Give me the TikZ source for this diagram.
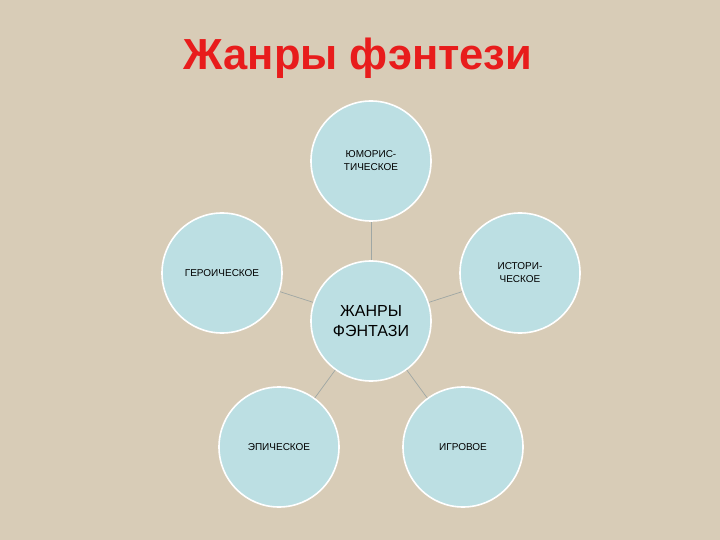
\documentclass[tikz,border=0pt]{standalone}
\usepackage{fontspec}
\setmainfont{Liberation Sans}
\definecolor{bgbeige}{HTML}{D8CCB7}
\definecolor{circblue}{HTML}{BCDFE3}
\definecolor{linkgray}{HTML}{9FA7A4}
\definecolor{titlered}{HTML}{E81C1C}
\tikzset{
  genre/.style={circle, minimum size=120bp, inner sep=0pt, draw=white, line width=1.6bp, fill=circblue, align=center, font=\fontsize{10bp}{13bp}\selectfont, text=black},
  hub/.style={genre, font=\fontsize{16bp}{20bp}\selectfont},
  link/.style={draw=linkgray, line width=0.7bp}
}
\begin{document}
\begin{tikzpicture}[x=1bp,y=-1bp]
\fill[bgbeige] (0,0) rectangle (720,540);
\useasboundingbox (0,0) rectangle (720,540);
\node[font=\bfseries\fontsize{43.5bp}{48bp}\selectfont, text=titlered, anchor=base] (title) at (358,70) {Жанры фэнтези};
\node[genre] (top) at (371,161) {ЮМОРИС-\\ТИЧЕСКОЕ};
\node[genre] (left) at (222,273) {ГЕРОИЧЕСКОЕ};
\node[genre] (right) at (520,273) {ИСТОРИ-\\ЧЕСКОЕ};
\node[hub] (hub) at (371,321) {ЖАНРЫ\\ФЭНТАЗИ};
\node[genre] (bl) at (279,447) {ЭПИЧЕСКОЕ};
\node[genre] (br) at (463,447) {ИГРОВОЕ};
\draw[link] (hub) -- (top);
\draw[link] (hub) -- (left);
\draw[link] (hub) -- (right);
\draw[link] (hub) -- (bl);
\draw[link] (hub) -- (br);
\end{tikzpicture}
\end{document}
